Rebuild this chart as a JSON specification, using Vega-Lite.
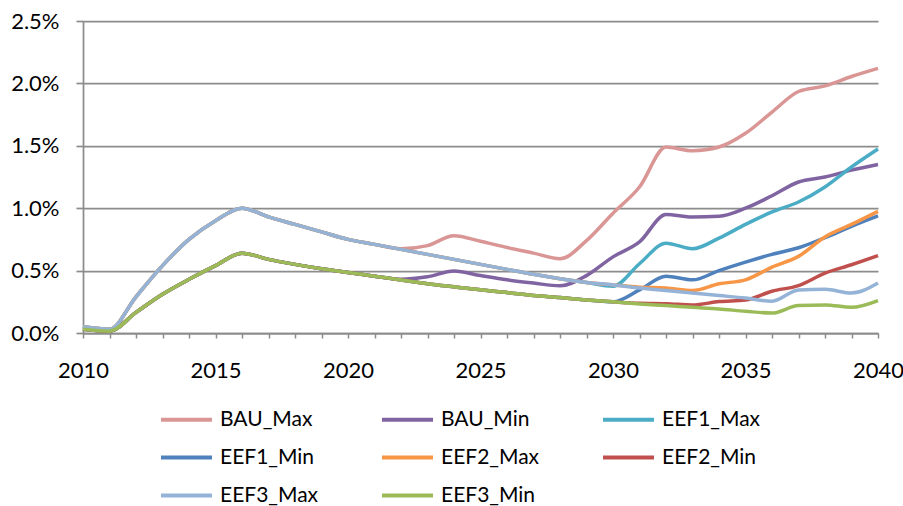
{
  "$schema": "https://vega.github.io/schema/vega-lite/v6.json",
  "width": 795,
  "height": 312,
  "autosize": {"type": "none"},
  "padding": {"left": 83, "top": 21, "right": 25, "bottom": 173},
  "background": "white",
  "config": {
    "view": {"stroke": null},
    "font": "Lato",
    "axis": {"labelFont": "Lato", "labelFontSize": 22, "labelColor": "black", "titleFont": "Lato"}
  },
  "data": {"values": [
    {"year":2010,"series":"BAU_Max","value":0.05},{"year":2011,"series":"BAU_Max","value":0.03},{"year":2012,"series":"BAU_Max","value":0.29},{"year":2013,"series":"BAU_Max","value":0.54},{"year":2014,"series":"BAU_Max","value":0.75},{"year":2015,"series":"BAU_Max","value":0.90},{"year":2016,"series":"BAU_Max","value":1.00},{"year":2017,"series":"BAU_Max","value":0.93},{"year":2018,"series":"BAU_Max","value":0.87},{"year":2019,"series":"BAU_Max","value":0.81},{"year":2020,"series":"BAU_Max","value":0.75},{"year":2021,"series":"BAU_Max","value":0.71},{"year":2022,"series":"BAU_Max","value":0.675},{"year":2023,"series":"BAU_Max","value":0.70},{"year":2024,"series":"BAU_Max","value":0.78},{"year":2025,"series":"BAU_Max","value":0.735},{"year":2026,"series":"BAU_Max","value":0.685},{"year":2027,"series":"BAU_Max","value":0.64},{"year":2028,"series":"BAU_Max","value":0.595},{"year":2029,"series":"BAU_Max","value":0.74},{"year":2030,"series":"BAU_Max","value":0.96},{"year":2031,"series":"BAU_Max","value":1.17},{"year":2032,"series":"BAU_Max","value":1.49},{"year":2033,"series":"BAU_Max","value":1.46},{"year":2034,"series":"BAU_Max","value":1.49},{"year":2035,"series":"BAU_Max","value":1.60},{"year":2036,"series":"BAU_Max","value":1.77},{"year":2037,"series":"BAU_Max","value":1.935},{"year":2038,"series":"BAU_Max","value":1.98},{"year":2039,"series":"BAU_Max","value":2.055},{"year":2040,"series":"BAU_Max","value":2.12},

    {"year":2010,"series":"BAU_Min","value":0.03},{"year":2011,"series":"BAU_Min","value":0.015},{"year":2012,"series":"BAU_Min","value":0.165},{"year":2013,"series":"BAU_Min","value":0.31},{"year":2014,"series":"BAU_Min","value":0.43},{"year":2015,"series":"BAU_Min","value":0.54},{"year":2016,"series":"BAU_Min","value":0.64},{"year":2017,"series":"BAU_Min","value":0.59},{"year":2018,"series":"BAU_Min","value":0.55},{"year":2019,"series":"BAU_Min","value":0.515},{"year":2020,"series":"BAU_Min","value":0.485},{"year":2021,"series":"BAU_Min","value":0.455},{"year":2022,"series":"BAU_Min","value":0.43},{"year":2023,"series":"BAU_Min","value":0.45},{"year":2024,"series":"BAU_Min","value":0.496},{"year":2025,"series":"BAU_Min","value":0.46},{"year":2026,"series":"BAU_Min","value":0.426},{"year":2027,"series":"BAU_Min","value":0.40},{"year":2028,"series":"BAU_Min","value":0.378},{"year":2029,"series":"BAU_Min","value":0.46},{"year":2030,"series":"BAU_Min","value":0.61},{"year":2031,"series":"BAU_Min","value":0.73},{"year":2032,"series":"BAU_Min","value":0.95},{"year":2033,"series":"BAU_Min","value":0.93},{"year":2034,"series":"BAU_Min","value":0.935},{"year":2035,"series":"BAU_Min","value":1.00},{"year":2036,"series":"BAU_Min","value":1.10},{"year":2037,"series":"BAU_Min","value":1.21},{"year":2038,"series":"BAU_Min","value":1.25},{"year":2039,"series":"BAU_Min","value":1.305},{"year":2040,"series":"BAU_Min","value":1.35},

    {"year":2010,"series":"EEF1_Max","value":0.05},{"year":2011,"series":"EEF1_Max","value":0.03},{"year":2012,"series":"EEF1_Max","value":0.29},{"year":2013,"series":"EEF1_Max","value":0.54},{"year":2014,"series":"EEF1_Max","value":0.75},{"year":2015,"series":"EEF1_Max","value":0.90},{"year":2016,"series":"EEF1_Max","value":1.00},{"year":2017,"series":"EEF1_Max","value":0.93},{"year":2018,"series":"EEF1_Max","value":0.87},{"year":2019,"series":"EEF1_Max","value":0.81},{"year":2020,"series":"EEF1_Max","value":0.75},{"year":2021,"series":"EEF1_Max","value":0.71},{"year":2022,"series":"EEF1_Max","value":0.67},{"year":2023,"series":"EEF1_Max","value":0.63},{"year":2024,"series":"EEF1_Max","value":0.59},{"year":2025,"series":"EEF1_Max","value":0.55},{"year":2026,"series":"EEF1_Max","value":0.51},{"year":2027,"series":"EEF1_Max","value":0.47},{"year":2028,"series":"EEF1_Max","value":0.435},{"year":2029,"series":"EEF1_Max","value":0.405},{"year":2030,"series":"EEF1_Max","value":0.375},{"year":2031,"series":"EEF1_Max","value":0.555},{"year":2032,"series":"EEF1_Max","value":0.72},{"year":2033,"series":"EEF1_Max","value":0.675},{"year":2034,"series":"EEF1_Max","value":0.76},{"year":2035,"series":"EEF1_Max","value":0.87},{"year":2036,"series":"EEF1_Max","value":0.97},{"year":2037,"series":"EEF1_Max","value":1.05},{"year":2038,"series":"EEF1_Max","value":1.17},{"year":2039,"series":"EEF1_Max","value":1.33},{"year":2040,"series":"EEF1_Max","value":1.474},

    {"year":2010,"series":"EEF1_Min","value":0.03},{"year":2011,"series":"EEF1_Min","value":0.015},{"year":2012,"series":"EEF1_Min","value":0.165},{"year":2013,"series":"EEF1_Min","value":0.31},{"year":2014,"series":"EEF1_Min","value":0.43},{"year":2015,"series":"EEF1_Min","value":0.54},{"year":2016,"series":"EEF1_Min","value":0.64},{"year":2017,"series":"EEF1_Min","value":0.59},{"year":2018,"series":"EEF1_Min","value":0.55},{"year":2019,"series":"EEF1_Min","value":0.515},{"year":2020,"series":"EEF1_Min","value":0.485},{"year":2021,"series":"EEF1_Min","value":0.455},{"year":2022,"series":"EEF1_Min","value":0.425},{"year":2023,"series":"EEF1_Min","value":0.395},{"year":2024,"series":"EEF1_Min","value":0.37},{"year":2025,"series":"EEF1_Min","value":0.346},{"year":2026,"series":"EEF1_Min","value":0.324},{"year":2027,"series":"EEF1_Min","value":0.30},{"year":2028,"series":"EEF1_Min","value":0.284},{"year":2029,"series":"EEF1_Min","value":0.265},{"year":2030,"series":"EEF1_Min","value":0.25},{"year":2031,"series":"EEF1_Min","value":0.345},{"year":2032,"series":"EEF1_Min","value":0.455},{"year":2033,"series":"EEF1_Min","value":0.426},{"year":2034,"series":"EEF1_Min","value":0.50},{"year":2035,"series":"EEF1_Min","value":0.568},{"year":2036,"series":"EEF1_Min","value":0.63},{"year":2037,"series":"EEF1_Min","value":0.683},{"year":2038,"series":"EEF1_Min","value":0.764},{"year":2039,"series":"EEF1_Min","value":0.855},{"year":2040,"series":"EEF1_Min","value":0.938},

    {"year":2010,"series":"EEF2_Max","value":0.05},{"year":2011,"series":"EEF2_Max","value":0.03},{"year":2012,"series":"EEF2_Max","value":0.29},{"year":2013,"series":"EEF2_Max","value":0.54},{"year":2014,"series":"EEF2_Max","value":0.75},{"year":2015,"series":"EEF2_Max","value":0.90},{"year":2016,"series":"EEF2_Max","value":1.00},{"year":2017,"series":"EEF2_Max","value":0.93},{"year":2018,"series":"EEF2_Max","value":0.87},{"year":2019,"series":"EEF2_Max","value":0.81},{"year":2020,"series":"EEF2_Max","value":0.75},{"year":2021,"series":"EEF2_Max","value":0.71},{"year":2022,"series":"EEF2_Max","value":0.67},{"year":2023,"series":"EEF2_Max","value":0.63},{"year":2024,"series":"EEF2_Max","value":0.59},{"year":2025,"series":"EEF2_Max","value":0.55},{"year":2026,"series":"EEF2_Max","value":0.51},{"year":2027,"series":"EEF2_Max","value":0.47},{"year":2028,"series":"EEF2_Max","value":0.435},{"year":2029,"series":"EEF2_Max","value":0.405},{"year":2030,"series":"EEF2_Max","value":0.385},{"year":2031,"series":"EEF2_Max","value":0.367},{"year":2032,"series":"EEF2_Max","value":0.36},{"year":2033,"series":"EEF2_Max","value":0.34},{"year":2034,"series":"EEF2_Max","value":0.394},{"year":2035,"series":"EEF2_Max","value":0.426},{"year":2036,"series":"EEF2_Max","value":0.528},{"year":2037,"series":"EEF2_Max","value":0.614},{"year":2038,"series":"EEF2_Max","value":0.77},{"year":2039,"series":"EEF2_Max","value":0.87},{"year":2040,"series":"EEF2_Max","value":0.975},

    {"year":2010,"series":"EEF2_Min","value":0.03},{"year":2011,"series":"EEF2_Min","value":0.015},{"year":2012,"series":"EEF2_Min","value":0.165},{"year":2013,"series":"EEF2_Min","value":0.31},{"year":2014,"series":"EEF2_Min","value":0.43},{"year":2015,"series":"EEF2_Min","value":0.54},{"year":2016,"series":"EEF2_Min","value":0.64},{"year":2017,"series":"EEF2_Min","value":0.59},{"year":2018,"series":"EEF2_Min","value":0.55},{"year":2019,"series":"EEF2_Min","value":0.515},{"year":2020,"series":"EEF2_Min","value":0.485},{"year":2021,"series":"EEF2_Min","value":0.455},{"year":2022,"series":"EEF2_Min","value":0.425},{"year":2023,"series":"EEF2_Min","value":0.395},{"year":2024,"series":"EEF2_Min","value":0.37},{"year":2025,"series":"EEF2_Min","value":0.346},{"year":2026,"series":"EEF2_Min","value":0.324},{"year":2027,"series":"EEF2_Min","value":0.30},{"year":2028,"series":"EEF2_Min","value":0.284},{"year":2029,"series":"EEF2_Min","value":0.265},{"year":2030,"series":"EEF2_Min","value":0.25},{"year":2031,"series":"EEF2_Min","value":0.238},{"year":2032,"series":"EEF2_Min","value":0.235},{"year":2033,"series":"EEF2_Min","value":0.225},{"year":2034,"series":"EEF2_Min","value":0.252},{"year":2035,"series":"EEF2_Min","value":0.265},{"year":2036,"series":"EEF2_Min","value":0.335},{"year":2037,"series":"EEF2_Min","value":0.38},{"year":2038,"series":"EEF2_Min","value":0.48},{"year":2039,"series":"EEF2_Min","value":0.547},{"year":2040,"series":"EEF2_Min","value":0.62},

    {"year":2010,"series":"EEF3_Max","value":0.05},{"year":2011,"series":"EEF3_Max","value":0.03},{"year":2012,"series":"EEF3_Max","value":0.29},{"year":2013,"series":"EEF3_Max","value":0.54},{"year":2014,"series":"EEF3_Max","value":0.75},{"year":2015,"series":"EEF3_Max","value":0.90},{"year":2016,"series":"EEF3_Max","value":1.00},{"year":2017,"series":"EEF3_Max","value":0.93},{"year":2018,"series":"EEF3_Max","value":0.87},{"year":2019,"series":"EEF3_Max","value":0.81},{"year":2020,"series":"EEF3_Max","value":0.75},{"year":2021,"series":"EEF3_Max","value":0.71},{"year":2022,"series":"EEF3_Max","value":0.67},{"year":2023,"series":"EEF3_Max","value":0.63},{"year":2024,"series":"EEF3_Max","value":0.59},{"year":2025,"series":"EEF3_Max","value":0.55},{"year":2026,"series":"EEF3_Max","value":0.51},{"year":2027,"series":"EEF3_Max","value":0.47},{"year":2028,"series":"EEF3_Max","value":0.435},{"year":2029,"series":"EEF3_Max","value":0.405},{"year":2030,"series":"EEF3_Max","value":0.385},{"year":2031,"series":"EEF3_Max","value":0.36},{"year":2032,"series":"EEF3_Max","value":0.34},{"year":2033,"series":"EEF3_Max","value":0.32},{"year":2034,"series":"EEF3_Max","value":0.30},{"year":2035,"series":"EEF3_Max","value":0.28},{"year":2036,"series":"EEF3_Max","value":0.255},{"year":2037,"series":"EEF3_Max","value":0.345},{"year":2038,"series":"EEF3_Max","value":0.35},{"year":2039,"series":"EEF3_Max","value":0.32},{"year":2040,"series":"EEF3_Max","value":0.40},

    {"year":2010,"series":"EEF3_Min","value":0.03},{"year":2011,"series":"EEF3_Min","value":0.015},{"year":2012,"series":"EEF3_Min","value":0.165},{"year":2013,"series":"EEF3_Min","value":0.31},{"year":2014,"series":"EEF3_Min","value":0.43},{"year":2015,"series":"EEF3_Min","value":0.54},{"year":2016,"series":"EEF3_Min","value":0.64},{"year":2017,"series":"EEF3_Min","value":0.59},{"year":2018,"series":"EEF3_Min","value":0.55},{"year":2019,"series":"EEF3_Min","value":0.515},{"year":2020,"series":"EEF3_Min","value":0.485},{"year":2021,"series":"EEF3_Min","value":0.455},{"year":2022,"series":"EEF3_Min","value":0.425},{"year":2023,"series":"EEF3_Min","value":0.395},{"year":2024,"series":"EEF3_Min","value":0.37},{"year":2025,"series":"EEF3_Min","value":0.346},{"year":2026,"series":"EEF3_Min","value":0.324},{"year":2027,"series":"EEF3_Min","value":0.30},{"year":2028,"series":"EEF3_Min","value":0.284},{"year":2029,"series":"EEF3_Min","value":0.265},{"year":2030,"series":"EEF3_Min","value":0.25},{"year":2031,"series":"EEF3_Min","value":0.233},{"year":2032,"series":"EEF3_Min","value":0.22},{"year":2033,"series":"EEF3_Min","value":0.206},{"year":2034,"series":"EEF3_Min","value":0.193},{"year":2035,"series":"EEF3_Min","value":0.174},{"year":2036,"series":"EEF3_Min","value":0.16},{"year":2037,"series":"EEF3_Min","value":0.22},{"year":2038,"series":"EEF3_Min","value":0.225},{"year":2039,"series":"EEF3_Min","value":0.206},{"year":2040,"series":"EEF3_Min","value":0.26}
  ]},
  "mark": {"type": "line", "interpolate": "monotone", "strokeWidth": 3.5},
  "encoding": {
    "x": {
      "field": "year", "type": "quantitative",
      "scale": {"domain": [2010, 2040], "nice": false, "zero": false},
      "axis": {
        "title": null, "grid": false,
        "values": [2010,2011,2012,2013,2014,2015,2016,2017,2018,2019,2020,2021,2022,2023,2024,2025,2026,2027,2028,2029,2030,2031,2032,2033,2034,2035,2036,2037,2038,2039,2040],
        "labelExpr": "datum.value % 5 === 0 ? format(datum.value, 'd') : ''",
        "labelOverlap": false, "labelFlush": false,
        "domainColor": "#8c8c8c", "domainWidth": 1.75,
        "tickColor": "#8c8c8c", "tickWidth": 1.5, "tickSize": 5,
        "labelPadding": 22
      }
    },
    "y": {
      "field": "value", "type": "quantitative",
      "scale": {"domain": [0, 2.5], "nice": false},
      "axis": {
        "title": null,
        "values": [0, 0.5, 1, 1.5, 2, 2.5],
        "labelExpr": "format(datum.value, '.1f') + '%'",
        "grid": true, "gridColor": "#8c8c8c", "gridWidth": 1.75,
        "domainColor": "#8c8c8c", "domainWidth": 1.75,
        "tickColor": "#8c8c8c", "tickWidth": 1.75, "tickSize": 7,
        "labelPadding": 17
      }
    },
    "color": {
      "field": "series", "type": "nominal",
      "scale": {
        "domain": ["BAU_Max","BAU_Min","EEF1_Max","EEF1_Min","EEF2_Max","EEF2_Min","EEF3_Max","EEF3_Min"],
        "range": ["#D99694","#8064A2","#4BACC6","#4F81BD","#F79646","#C0504D","#95B3D7","#9BBB59"]
      },
      "legend": {
        "title": null, "orient": "none", "legendX": 76, "legendY": 371,
        "columns": 3, "direction": "horizontal", "gridAlign": "all",
        "symbolType": "stroke", "symbolSize": 2601, "symbolStrokeWidth": 4,
        "labelFont": "Lato", "labelFontSize": 21, "labelColor": "black", "labelOffset": 6,
        "columnPadding": 55, "rowPadding": -1
      }
    }
  }
}
